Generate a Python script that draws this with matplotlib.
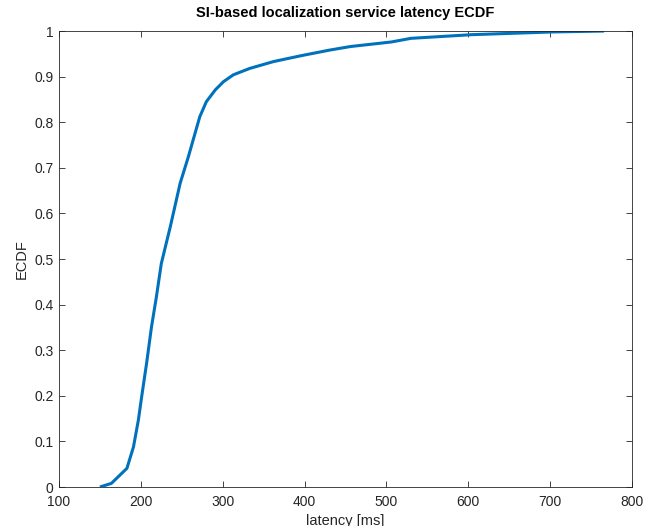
import numpy as np
import matplotlib.pyplot as plt

plt.rcParams['font.family'] = ['Liberation Sans', 'DejaVu Sans']

# latency [ms] vs ECDF
latency = [150, 164, 183, 191, 197, 201, 207, 213, 219, 225, 236, 248, 258,
           272, 280, 291, 301, 313, 333, 362, 396, 430, 456, 506, 530, 604,
           703, 766]
ecdf = [0.0, 0.008, 0.041, 0.088, 0.147, 0.198, 0.271, 0.351, 0.417, 0.490,
        0.571, 0.666, 0.724, 0.812, 0.845, 0.871, 0.889, 0.904, 0.918, 0.933,
        0.946, 0.958, 0.966, 0.976, 0.984, 0.992, 0.998, 1.0]

fig = plt.figure(figsize=(6.59, 5.26), dpi=100)
ax = fig.add_axes([0.0895, 0.0741, 0.8695, 0.8669])
ax.plot(latency, ecdf, color='#0072BD', linewidth=2.2, solid_capstyle='butt')

ax.set_xlim(100, 800)
ax.set_ylim(0, 1)
ax.set_xticks(np.arange(100, 801, 100))
ax.set_yticks(np.arange(0, 1.01, 0.1))
ax.set_yticklabels(['0', '0.1', '0.2', '0.3', '0.4', '0.5', '0.6', '0.7',
                    '0.8', '0.9', '1'])
ax.tick_params(direction='in', top=True, right=True, length=4, width=0.6,
               colors='#262626', labelsize=10)
ax.tick_params(axis='x', pad=6)
ax.tick_params(axis='y', pad=4)
for s in ax.spines.values():
    s.set_color('#262626')
    s.set_linewidth(0.6)

ax.set_title('SI-based localization service latency ECDF', fontsize=10.5,
             fontweight='bold', pad=10)
ax.set_xlabel('latency [ms]', fontsize=10.5, color='#262626', labelpad=3)
ax.set_ylabel('ECDF', fontsize=10.5, color='#262626', labelpad=4)

fig.savefig('out.png', dpi=100)
